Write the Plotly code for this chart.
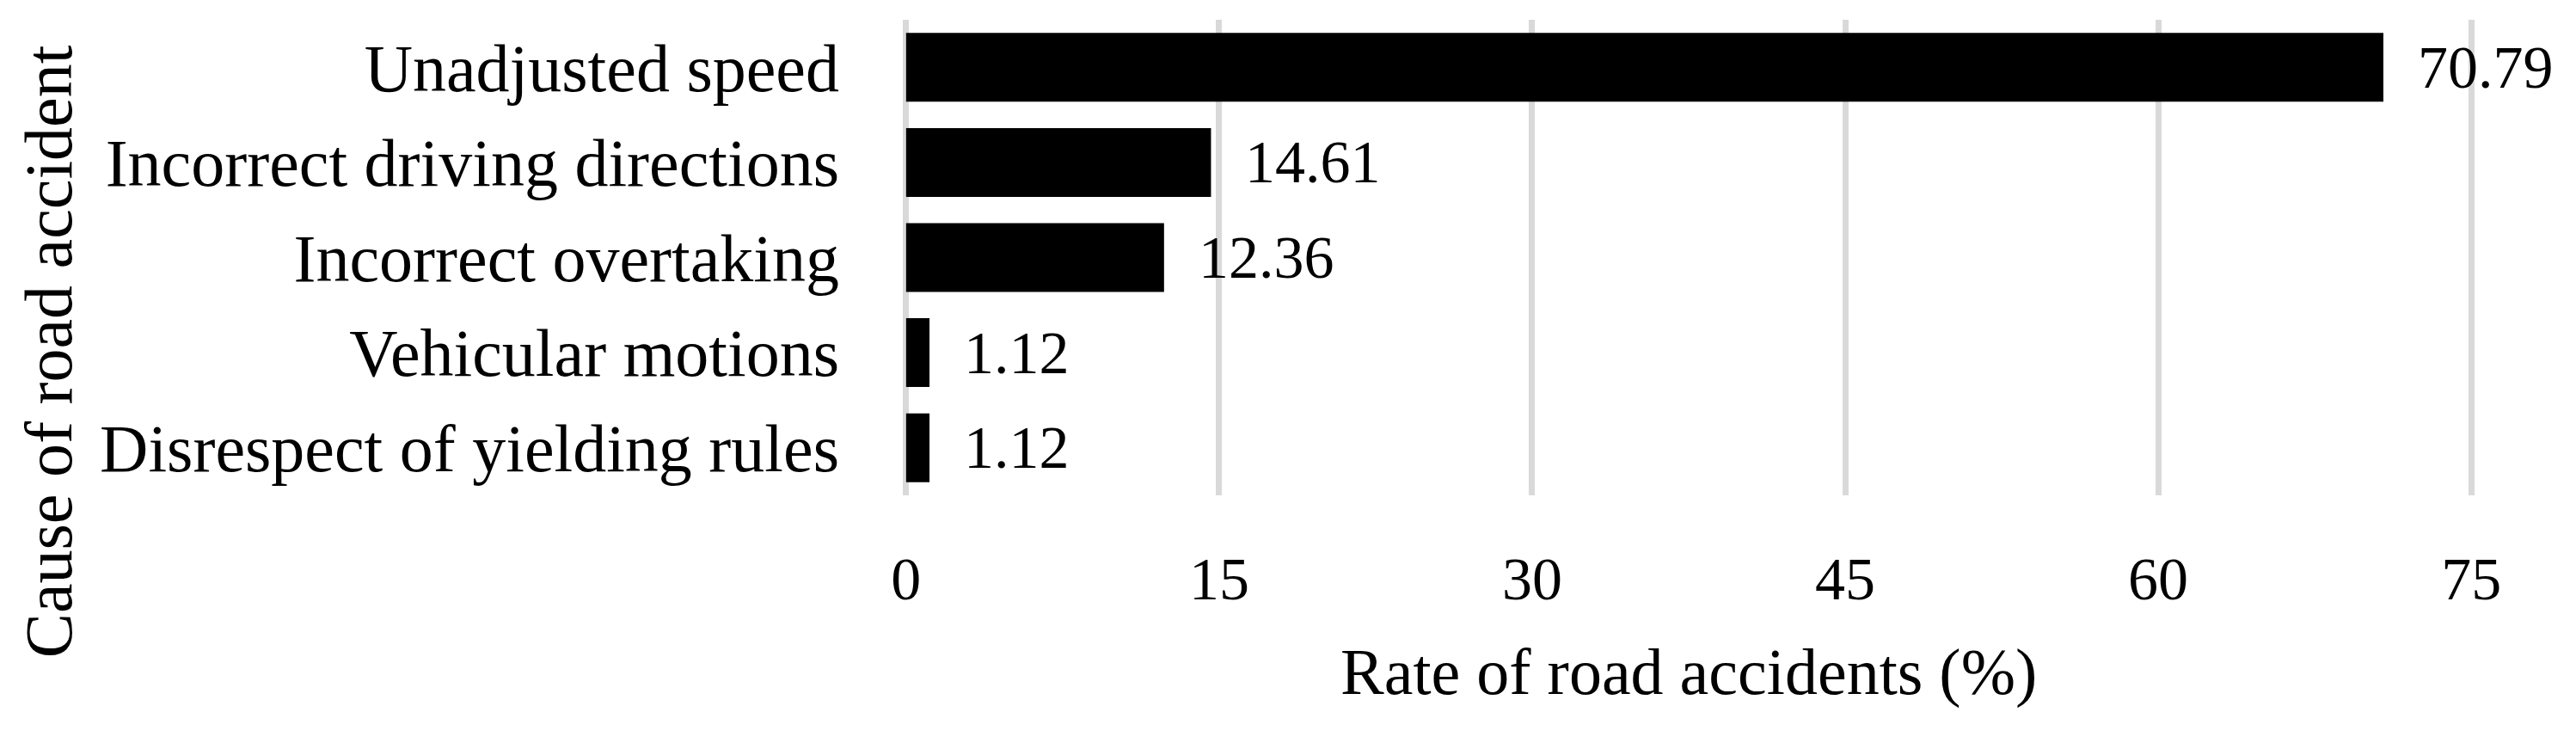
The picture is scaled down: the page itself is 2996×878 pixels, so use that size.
import plotly.graph_objects as go

causes = [
    "Unadjusted speed",
    "Incorrect driving directions",
    "Incorrect overtaking",
    "Vehicular motions",
    "Disrespect of yielding rules",
]
rates = [70.79, 14.61, 12.36, 1.12, 1.12]
x_ticks = [0, 15, 30, 45, 60, 75]
x_title = "Rate of road accidents (%)"
y_title = "Cause of road accident"

FONT = "Liberation Serif"
# page body has an 8px default margin; size the figure so it fits the window
W, H = 2988, 870
L, R, T, B = 1041, 117, 15, 302

fig = go.Figure()
fig.add_trace(go.Bar(
    x=rates, y=causes, orientation="h",
    marker=dict(color="black", line=dict(width=0)),
    showlegend=False,
))

for c, v in zip(causes, rates):
    fig.add_annotation(
        x=v, y=c, xref="x", yref="y", text=f"{v:.2f}",
        showarrow=False, xanchor="left", yanchor="middle", xshift=38,
        font=dict(family=FONT, size=70, color="black"),
    )

fig.add_annotation(
    x=-0.542, y=0.302, xref="paper", yref="paper", text=y_title,
    textangle=-90, showarrow=False, xanchor="center", yanchor="middle",
    font=dict(family=FONT, size=78, color="black"),
)
fig.add_annotation(
    x=0.5, y=0, xref="paper", yref="paper", text=x_title,
    showarrow=False, xanchor="center", yanchor="top", yshift=-161,
    font=dict(family=FONT, size=76, color="black"),
)

fig.update_layout(
    width=W, height=H,
    margin=dict(l=L, r=R, t=T, b=B, pad=0),
    paper_bgcolor="white", plot_bgcolor="white",
    bargap=0.277,
    xaxis=dict(
        range=[-0.2, 75.2], tickvals=x_ticks, ticktext=[str(t) for t in x_ticks],
        showgrid=True, gridcolor="#d9d9d9", gridwidth=7, zeroline=False,
        showline=False, ticks="", ticklabelstandoff=50,
        tickfont=dict(family=FONT, size=70, color="black"),
    ),
    yaxis=dict(
        categoryorder="array", categoryarray=causes, autorange="reversed",
        showgrid=False, zeroline=False, showline=False, ticks="",
        ticklabelstandoff=72,
        tickfont=dict(family=FONT, size=78, color="black"),
    ),
)

fig.write_html("out.html")
